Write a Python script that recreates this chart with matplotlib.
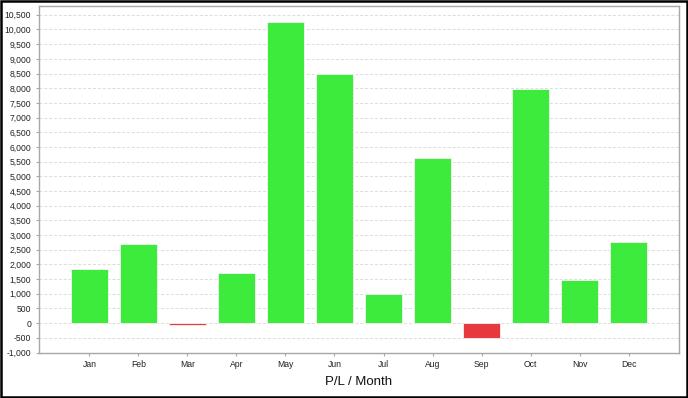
import matplotlib
matplotlib.use("Agg")
import matplotlib.pyplot as plt
from matplotlib.patches import Rectangle
from matplotlib.ticker import FuncFormatter, MultipleLocator

# P/L per month
months = ["Jan", "Feb", "Mar", "Apr", "May", "Jun", "Jul", "Aug", "Sep", "Oct", "Nov", "Dec"]
pl_values = [1850, 2680, -70, 1720, 10240, 8500, 1000, 5630, -505, 7980, 1455, 2750]

green = "#3deb3d"
red = "#e8393f"

plt.rcParams["font.family"] = ["Liberation Sans", "DejaVu Sans"]

fig = plt.figure(figsize=(6.88, 3.98), dpi=100)
ax = fig.add_axes([39 / 688, (398 - 352.5) / 398, 640 / 688, 346.5 / 398])

colors = [green if v >= 0 else red for v in pl_values]
x = list(range(len(months)))
ax.bar(x, pl_values, width=0.755, color=colors, edgecolor="#f4f4f4", linewidth=0.6, zorder=3)

ax.set_xticks(x)
ax.set_xticklabels(months)
ax.set_xlim(-1.03, 12.03)
ax.set_ylim(-1000, 10800)
ax.yaxis.set_major_locator(MultipleLocator(500))
ax.yaxis.set_major_formatter(FuncFormatter(lambda v, p: f"{int(v):,}"))

ax.grid(axis="y", linestyle=(0, (3, 2)), color="#dcdcdc", linewidth=0.7, zorder=0)
ax.grid(axis="x", visible=False)

for s in ax.spines.values():
    s.set_color("#a8a8a8")
    s.set_linewidth(1.0)

ax.tick_params(axis="both", labelsize=6.2, colors="#a8a8a8", labelcolor="#222222", length=2.5, width=0.8)
ax.tick_params(axis="x", pad=3)
ax.tick_params(axis="y", pad=3)

ax.set_xlabel("P/L / Month", fontsize=9.5, color="#111111", labelpad=5)

# black frame around whole figure
fig.patches.append(Rectangle((0.001, 0.002), 0.997, 0.996, transform=fig.transFigure,
                             fill=False, edgecolor="black", linewidth=1.8))

fig.savefig("out.png", dpi=100)
